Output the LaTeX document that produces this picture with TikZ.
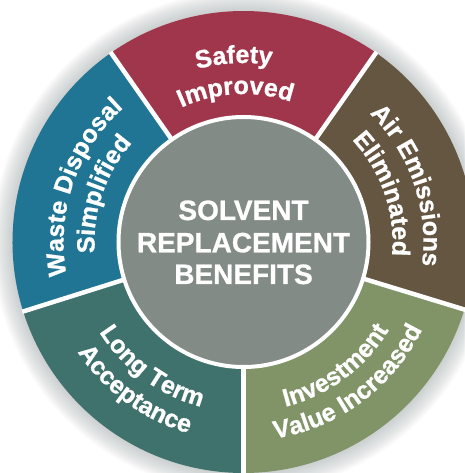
\documentclass[tikz,border=0pt]{standalone}
\usepackage{fontspec}
\setmainfont{Liberation Sans}[BoldFeatures={FakeBold=0.9}]
\usetikzlibrary{decorations.text}
\definecolor{cRed}{HTML}{A0364B}
\definecolor{cBlue}{HTML}{1F7593}
\definecolor{cBrown}{HTML}{655641}
\definecolor{cGreen}{HTML}{819468}
\definecolor{cTeal}{HTML}{3F716D}
\definecolor{cHub}{HTML}{838B86}
\definecolor{cShadow}{HTML}{8A9696}
\newcommand\ringfont{\fontsize{25}{30}\selectfont\bfseries}
\begin{document}
\begin{tikzpicture}[
  sep/.style={white, line width=4.5pt},
  ringtext/.style={decorate, decoration={text along path, text align=center, text color=white, text={|\ringfont|#1}}},
  hubtext/.style={anchor=base, text=white, font=\fontsize{28}{32}\selectfont\bfseries, inner sep=0pt}
]
\useasboundingbox (-243.5pt,-231pt) rectangle (220.5pt,242pt);
\fill[white] (-243.5pt,-231pt) rectangle (220.5pt,242pt);
% soft shadow
\foreach \k in {1,...,20} \fill[cShadow, opacity=0.025] (0,0) circle[radius={(231+\k)*1pt}];
% sectors
\fill[cRed]   (0,0) -- (55:231pt)   arc[start angle=55,   end angle=125,   radius=231pt] -- cycle;
\fill[cBlue]  (0,0) -- (125:231pt)  arc[start angle=125,  end angle=197.5, radius=231pt] -- cycle;
\fill[cTeal]  (0,0) -- (197.5:231pt) arc[start angle=197.5, end angle=270, radius=231pt] -- cycle;
\fill[cGreen] (0,0) -- (270:231pt)  arc[start angle=270,  end angle=343,   radius=231pt] -- cycle;
\fill[cBrown] (0,0) -- (-17:231pt)  arc[start angle=-17,  end angle=55,    radius=231pt] -- cycle;
% separators
\foreach \a in {55,125,197.5,270,343} \draw[sep] (0,0) -- (\a:232pt);
% hub
\node[circle, fill=cHub, draw=white, line width=4pt, minimum size=250pt, inner sep=0pt] (hub) at (0,0) {};
\node[hubtext] (t1) at (0,22pt) {SOLVENT};
\node[hubtext] (t2) at (0,-10.3pt) {REPLACEMENT};
\node[hubtext] (t3) at (0,-42pt) {BENEFITS};
% ring texts (clockwise arcs: tops outward)
\path[ringtext={Safety}]   (128:179pt) arc[start angle=128, end angle=58, radius=179pt];
\path[ringtext={Improved}] (128:148pt) arc[start angle=128, end angle=58, radius=148pt];
\path[ringtext={Waste Disposal}] (197.5:180pt) arc[start angle=197.5, end angle=125, radius=180pt];
\path[ringtext={Simplified}]     (197.5:149pt) arc[start angle=197.5, end angle=125, radius=149pt];
\path[ringtext={Air Emissions}] (55:180pt) arc[start angle=55, end angle=-17, radius=180pt];
\path[ringtext={Eliminated}]    (55:149pt) arc[start angle=55, end angle=-17, radius=149pt];
% counter-clockwise arcs: tops inward
\path[ringtext={Long Term}]  (197.5:170pt) arc[start angle=197.5, end angle=270, radius=170pt];
\path[ringtext={Acceptance}] (197.5:199pt) arc[start angle=197.5, end angle=270, radius=199pt];
\path[ringtext={Investment}]      (270:170pt) arc[start angle=270, end angle=343, radius=170pt];
\path[ringtext={Value Increased}] (270:199pt) arc[start angle=270, end angle=343, radius=199pt];
\end{tikzpicture}
\end{document}
